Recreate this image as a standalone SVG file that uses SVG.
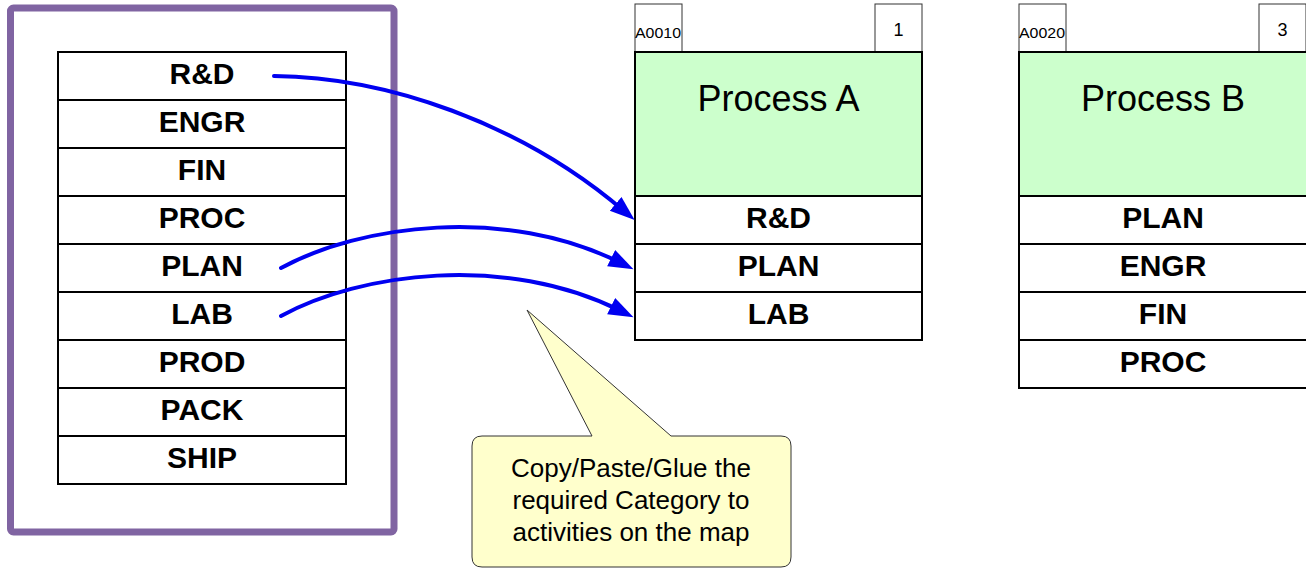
<svg xmlns="http://www.w3.org/2000/svg" width="1306" height="568" viewBox="0 0 1306 568">
<style>
.cell{fill:#fff;stroke:#000;stroke-width:2}
.cat{font-family:"Liberation Sans",Arial,sans-serif;font-weight:bold;font-size:30px;text-anchor:middle;fill:#000}
.green{fill:#CCFFCC;stroke:#000;stroke-width:2}
.tab{fill:#fff;stroke:#333;stroke-width:1}
.title{font-family:"Liberation Sans",Arial,sans-serif;font-size:36px;text-anchor:middle;fill:#000}
.small{font-family:"Liberation Sans",Arial,sans-serif;font-size:14px;fill:#000}
.num{font-family:"Liberation Sans",Arial,sans-serif;font-size:18px;text-anchor:middle;fill:#000}
.conn{fill:none;stroke:#0000F0;stroke-width:4;stroke-linecap:round}
.note{font-family:"Liberation Sans",Arial,sans-serif;font-size:26px;text-anchor:middle;fill:#000}
</style>
<defs>
<marker id="arr" markerUnits="userSpaceOnUse" markerWidth="26" markerHeight="20" viewBox="0 0 26 20" refX="11" refY="10" orient="auto">
<path d="M0,1 L25,10 L0,19 Z" fill="#0000F0"/>
</marker>
</defs>

<g id="category-frame">
<rect x="10.5" y="8" width="383.5" height="524" rx="3" fill="none" stroke="#8064A2" stroke-width="7"/>
</g>

<g id="category-list">
<rect class="cell" x="58" y="52" width="288" height="48"/><text class="cat" x="202" y="83.5">R&amp;D</text>
<rect class="cell" x="58" y="100" width="288" height="48"/><text class="cat" x="202" y="131.5">ENGR</text>
<rect class="cell" x="58" y="148" width="288" height="48"/><text class="cat" x="202" y="179.5">FIN</text>
<rect class="cell" x="58" y="196" width="288" height="48"/><text class="cat" x="202" y="227.5">PROC</text>
<rect class="cell" x="58" y="244" width="288" height="48"/><text class="cat" x="202" y="275.5">PLAN</text>
<rect class="cell" x="58" y="292" width="288" height="48"/><text class="cat" x="202" y="323.5">LAB</text>
<rect class="cell" x="58" y="340" width="288" height="48"/><text class="cat" x="202" y="371.5">PROD</text>
<rect class="cell" x="58" y="388" width="288" height="48"/><text class="cat" x="202" y="419.5">PACK</text>
<rect class="cell" x="58" y="436" width="288" height="48"/><text class="cat" x="202" y="467.5">SHIP</text>
</g>

<g id="process-a">
<rect class="tab" x="635" y="4" width="47" height="48"/>
<text class="small" x="635" y="37.5" textLength="46" lengthAdjust="spacingAndGlyphs">A0010</text>
<rect class="tab" x="875" y="4" width="47" height="48"/>
<text class="num" x="898.5" y="35.5">1</text>
<rect class="green" x="635" y="52" width="287" height="144"/>
<text class="title" x="778.5" y="110.5">Process A</text>
<rect class="cell" x="635" y="196" width="287" height="48"/><text class="cat" x="778.5" y="227.5">R&amp;D</text>
<rect class="cell" x="635" y="244" width="287" height="48"/><text class="cat" x="778.5" y="275.5">PLAN</text>
<rect class="cell" x="635" y="292" width="287" height="48"/><text class="cat" x="778.5" y="323.5">LAB</text>
</g>

<g id="process-b">
<rect class="tab" x="1019" y="4" width="47" height="48"/>
<text class="small" x="1019" y="37.5" textLength="46" lengthAdjust="spacingAndGlyphs">A0020</text>
<rect class="tab" x="1259" y="4" width="47" height="48"/>
<text class="num" x="1282.5" y="35.5">3</text>
<rect class="green" x="1019" y="52" width="288" height="144"/>
<text class="title" x="1163" y="110.5">Process B</text>
<rect class="cell" x="1019" y="196" width="288" height="48"/><text class="cat" x="1163" y="227.5">PLAN</text>
<rect class="cell" x="1019" y="244" width="288" height="48"/><text class="cat" x="1163" y="275.5">ENGR</text>
<rect class="cell" x="1019" y="292" width="288" height="48"/><text class="cat" x="1163" y="323.5">FIN</text>
<rect class="cell" x="1019" y="340" width="288" height="48"/><text class="cat" x="1163" y="371.5">PROC</text>
</g>

<g id="connectors">
<path class="conn" d="M274,76 C385,77 520,122 624,211" marker-end="url(#arr)"/>
<path class="conn" d="M281,268 C360,225 505,205 621,263" marker-end="url(#arr)"/>
<path class="conn" d="M281,316 C360,273 505,253 621,311" marker-end="url(#arr)"/>
</g>

<g id="callout">
<path d="M482,436 L592,436 L527,310 L671,436 L781,436 Q791,436 791,446 L791,557 Q791,567 781,567 L482,567 Q472,567 472,557 L472,446 Q472,436 482,436 Z" fill="#FFFFCC" stroke="#333" stroke-width="1"/>
<text class="note" x="631" y="477">Copy/Paste/Glue the</text>
<text class="note" x="631" y="509">required Category to</text>
<text class="note" x="631" y="541">activities on the map</text>
</g>
</svg>
